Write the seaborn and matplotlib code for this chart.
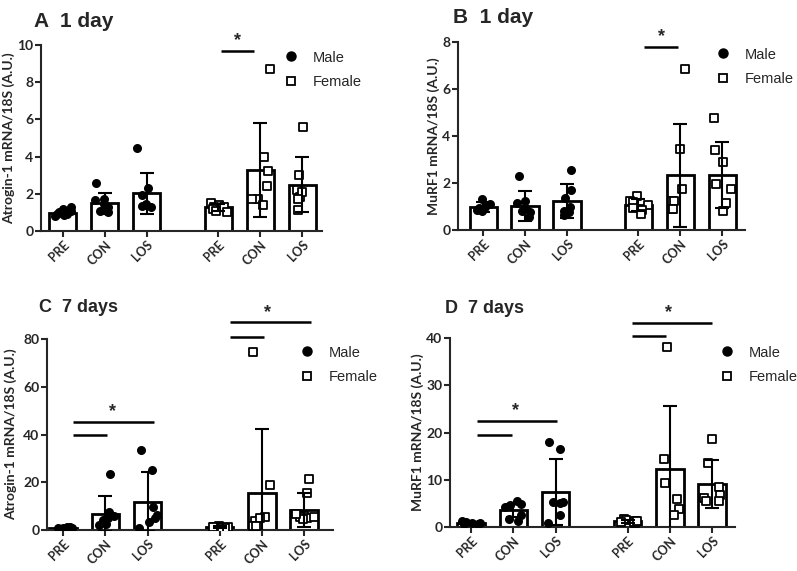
import numpy as np
import pandas as pd
import matplotlib
matplotlib.use("Agg")
import matplotlib.pyplot as plt
from matplotlib.lines import Line2D
import seaborn as sns

# ======================================================
# DATA
# ======================================================

groups = ["PRE", "CON", "LOS", "PRE", "CON", "LOS"]
sexes = ["Male", "Female"]
positions = [0, 1, 2, 3.7, 4.7, 5.7]

# A - Atrogin-1, 1 day
a_mean = [0.95, 1.5, 2.03, 1.28, 3.28, 2.5]
a_sd = [0.15, 0.56, 1.1, 0.18, 2.55, 1.47]
a_male = [[0.85, 0.9, 1.0, 1.2, 1.3, 1.1, 0.8, 0.9],
          [2.6, 1.7, 1.65, 1.45, 1.3, 1.05, 1.0, 1.1],
          [4.45, 2.3, 1.95, 1.4, 1.35, 1.3, 1.45]]
a_female = [[1.5, 1.4, 1.3, 1.3, 1.2, 1.1, 1.0],
            [8.7, 4.0, 3.2, 2.4, 1.7, 1.7, 1.4],
            [5.6, 3.0, 2.2, 1.85, 2.1, 1.7, 1.15]]

# B - MuRF1, 1 day
b_mean = [0.97, 1.03, 1.25, 1.05, 2.33, 2.35]
b_sd = [0.22, 0.63, 0.72, 0.25, 2.2, 1.4]
b_male = [[1.3, 1.1, 1.0, 0.95, 0.9, 0.8, 0.85],
          [2.28, 1.25, 1.15, 0.95, 0.8, 0.55, 0.75],
          [2.55, 1.7, 1.35, 1.0, 0.65, 0.75, 0.8]]
b_female = [[1.45, 1.25, 1.2, 1.05, 0.95, 0.85, 0.7],
            [6.85, 3.45, 1.75, 1.25, 0.9, 1.25, 0.9],
            [4.75, 3.4, 2.9, 1.95, 1.75, 1.15, 0.8]]

# C - Atrogin-1, 7 days
c_mean = [1.0, 6.9, 11.8, 1.2, 15.5, 8.5]
c_sd = [0.3, 7.5, 12.4, 0.5, 27.0, 7.2]
c_male = [[1.2, 0.9, 1.0, 1.1, 0.8, 1.0, 0.9],
          [23.5, 7.5, 6.0, 5.0, 4.0, 2.5, 2.0],
          [33.5, 25.0, 9.7, 6.2, 4.9, 3.5, 1.0]]
c_female = [[1.5, 1.2, 1.0, 1.3, 0.9, 1.1, 1.4],
            [74.5, 18.8, 5.5, 3.9, 5.0, 1.5, 1.5],
            [21.3, 15.5, 6.0, 5.5, 5.0, 5.5, 4.5, 6.5]]

# D - MuRF1, 7 days
d_mean = [0.9, 3.5, 7.4, 1.2, 12.2, 9.1]
d_sd = [0.25, 1.3, 6.9, 0.25, 13.4, 5.1]
d_male = [[1.3, 1.0, 0.9, 0.8, 0.7, 0.6, 1.0],
          [5.4, 4.8, 4.6, 4.3, 2.6, 1.7, 1.3],
          [18.0, 16.5, 5.3, 5.0, 5.3, 2.6, 0.8]]
d_female = [[1.6, 1.4, 1.2, 1.0, 0.9, 1.1, 1.3],
            [38.0, 14.4, 9.4, 6.0, 3.9, 2.6],
            [18.6, 13.6, 8.4, 6.8, 6.2, 5.6, 5.5]]

# significance lines: (x start, x end, y) and asterisk (x, y)
a_lines = [(3.76, 4.55, 9.7)]
a_stars = [(4.17, 10.25)]
b_lines = [(3.83, 4.64, 7.79)]
b_stars = [(4.26, 8.25)]
c_lines = [(0.24, 2.15, 45.4), (0.24, 1.04, 39.6), (3.95, 5.86, 87.0), (3.95, 4.75, 81.0)]
c_stars = [(1.16, 49.5), (4.82, 91.2)]
d_lines = [(0.14, 2.03, 22.4), (0.14, 0.97, 19.5), (3.81, 5.7, 43.2), (3.81, 4.61, 40.4)]
d_stars = [(1.04, 24.7), (4.66, 45.4)]

# ======================================================
# STYLE
# ======================================================

sns.set_style("ticks")
plt.rcParams["font.family"] = ["Lato", "DejaVu Sans"]
plt.rcParams["axes.linewidth"] = 1.5
np.random.seed(3)  # horizontal jitter of the dots only

W, H = 797, 571
fig = plt.figure(figsize=(W / 100, H / 100), dpi=100)


def fx(px):
    return px / W


def fy(px):
    return 1 - px / H


panels = [
    dict(rect=(41, 322, 231, 45), mean=a_mean, sd=a_sd, male=a_male, female=a_female,
         ymax=10, yticks=np.arange(0, 11, 2), xlim=(-0.52, 6.17),
         ylabel="Atrogin-1 mRNA/18S (A.U.)", labx=-0.093,
         title="A  1 day", tpos=(34, 27), tsize=15,
         lines=a_lines, stars=a_stars, leg=(284, 70)),
    dict(rect=(458, 745, 230, 42), mean=b_mean, sd=b_sd, male=b_male, female=b_female,
         ymax=8, yticks=np.arange(0, 9, 2), xlim=(-0.6, 6.24),
         ylabel="MuRF1 mRNA/18S (A.U.)", labx=-0.062,
         title="B  1 day", tpos=(453, 23), tsize=15,
         lines=b_lines, stars=b_stars, leg=(716, 67)),
    dict(rect=(47, 333, 530, 339), mean=c_mean, sd=c_sd, male=c_male, female=c_female,
         ymax=80, yticks=np.arange(0, 81, 20), xlim=(-0.38, 6.38),
         ylabel="Atrogin-1 mRNA/18S (A.U.)", labx=-0.105,
         title="C  7 days", tpos=(39, 312), tsize=13,
         lines=c_lines, stars=c_stars, leg=(300, 365)),
    dict(rect=(450, 735, 527, 338), mean=d_mean, sd=d_sd, male=d_male, female=d_female,
         ymax=40, yticks=np.arange(0, 41, 10), xlim=(-0.5, 6.24),
         ylabel="MuRF1 mRNA/18S (A.U.)", labx=-0.09,
         title="D  7 days", tpos=(445, 313), tsize=13,
         lines=d_lines, stars=d_stars, leg=(720, 365)),
]

for p in panels:
    x0, x1, y0, y1 = p["rect"]
    ax = fig.add_axes([fx(x0), fy(y0), fx(x1 - x0), (y0 - y1) / H])

    # bars
    bar_df = pd.DataFrame({"pos": positions, "mean": p["mean"]})
    sns.barplot(data=bar_df, x="pos", y="mean", native_scale=True, width=0.65,
                color="white", edgecolor="black", linewidth=2,
                errorbar=None, ax=ax, zorder=2)

    # individual points
    male_rows = [(positions[i], v) for i in range(3) for v in p["male"][i]]
    female_rows = [(positions[i + 3], v) for i in range(3) for v in p["female"][i]]
    dm = pd.DataFrame(male_rows, columns=["pos", "val"])
    dfm = pd.DataFrame(female_rows, columns=["pos", "val"])
    sns.stripplot(data=dm, x="pos", y="val", native_scale=True, jitter=0.24,
                  color="black", marker="o", size=6.5, linewidth=0,
                  ax=ax, zorder=3)
    sns.stripplot(data=dfm, x="pos", y="val", native_scale=True, jitter=0.24,
                  color="white", edgecolor="black", marker="s", size=6,
                  linewidth=1.3, ax=ax, zorder=3)

    # mean +/- SD
    ax.errorbar(positions, p["mean"], yerr=p["sd"], fmt="none", ecolor="black",
                elinewidth=1.5, capsize=5, capthick=1.5, zorder=4)

    # significance
    for xs, xe, yy in p["lines"]:
        ax.plot([xs, xe], [yy, yy], color="black", lw=1.8, clip_on=False,
                solid_capstyle="butt")
    for xs, yy in p["stars"]:
        ax.text(xs, yy, "*", ha="center", va="center", fontsize=13,
                fontweight="bold", family="Liberation Sans")

    ax.set_xlim(*p["xlim"])
    ax.set_ylim(0, p["ymax"])
    ax.set_yticks(p["yticks"])
    ax.set_xticks(positions)
    ax.set_xticklabels(groups, rotation=45, ha="right", rotation_mode="anchor",
                       fontsize=9, fontweight="bold")
    for lab in ax.get_yticklabels():
        lab.set_fontsize(10)
        lab.set_fontweight("bold")
    ax.tick_params(width=1.5, length=4, pad=1.5)
    ax.set_xlabel("")
    ax.set_ylabel(p["ylabel"], fontsize=10, fontweight="bold")
    ax.yaxis.set_label_coords(p["labx"], 0.5)
    sns.despine(ax=ax)

    handles = [
        Line2D([], [], marker="o", ls="", color="black", markersize=6.5),
        Line2D([], [], marker="s", ls="", markerfacecolor="white",
               markeredgecolor="black", markeredgewidth=1.3, markersize=6),
    ]
    lx, ly = p["leg"]
    ax.legend(handles, sexes, loc="center left",
              bbox_to_anchor=(fx(lx), fy(ly)), bbox_transform=fig.transFigure,
              frameon=False, borderpad=0, borderaxespad=0, handlelength=1.0,
              handletextpad=1.0, labelspacing=0.75,
              prop={"family": "Liberation Sans", "size": 10.5})

    tx, ty = p["tpos"]
    fig.text(fx(tx), fy(ty), p["title"], fontsize=p["tsize"], fontweight="bold",
             family="Liberation Sans", va="baseline", ha="left")

fig.savefig("out.png", dpi=100)
